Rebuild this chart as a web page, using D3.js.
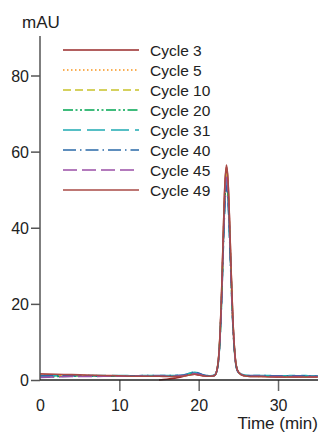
<!DOCTYPE html>
<html><head><meta charset="utf-8">
<script src="https://cdn.jsdelivr.net/npm/d3@7"></script>
<style>
html,body{margin:0;padding:0;background:#fff;}
svg{display:block;font-family:"Liberation Sans",Arial,sans-serif;}
</style></head>
<body><svg id="c" width="321" height="434"></svg>
<script>
// time (min)
const time = [0,2,4,6,8,10,12,14,15,16,17,18,18.5,19,19.5,20,20.5,21,21.5,
  22.0,22.3,22.6,22.9,23.1,23.3,23.5,23.7,23.9,24.1,24.3,24.6,24.9,25.3,25.8,
  26.5,27,28,29,30,31,32,33,34,35];
const seriesNames = ["Cycle 3","Cycle 5","Cycle 10","Cycle 20","Cycle 31","Cycle 40","Cycle 45","Cycle 49"];
// absorbance (mAU); null = not recorded
const cycle3  = [null,null,null,null,null,null,null,null,0.0,0.2,0.5,0.9,1.2,1.4,1.5,1.3,1.1,1.0,1.0,
  1.2,2.6,8.4,23.6,38.0,50.8,56.0,51.8,40.9,27.8,16.3,5.9,2.5,1.5,1.1,
  0.9,0.9,0.9,0.9,0.8,0.8,0.8,0.8,0.8,0.8];
const cycle5  = [1.3,1.3,1.2,1.2,1.1,1.1,1.0,1.0,1.0,1.0,1.0,1.1,1.3,1.6,1.7,1.5,1.2,1.0,1.0,
  1.2,2.5,8.1,22.9,36.9,49.4,55.0,50.4,39.8,27.0,15.9,5.8,2.4,1.5,1.1,
  1.0,1.0,0.9,0.9,0.9,0.9,0.9,0.9,0.9,0.9];
const cycle10 = [1.1,1.1,1.1,1.0,1.0,1.0,1.0,1.0,1.0,1.0,1.0,1.1,1.3,1.6,1.7,1.5,1.2,1.0,1.0,
  1.2,2.5,8.0,22.5,36.2,48.5,54.0,49.5,39.1,26.6,15.6,5.7,2.4,1.5,1.1,
  1.0,1.0,1.0,1.0,1.0,0.9,0.9,0.9,0.9,0.9];
const cycle20 = [0.8,0.9,1.0,1.0,1.0,1.0,1.0,1.1,1.1,1.1,1.1,1.2,1.4,1.7,1.8,1.6,1.3,1.1,1.0,
  1.2,2.5,7.9,22.1,35.6,47.6,53.0,48.6,38.4,26.1,15.3,5.6,2.4,1.5,1.2,
  1.1,1.1,1.0,1.0,1.0,1.0,1.0,1.0,1.0,1.0];
const cycle31 = [1.0,1.1,1.1,1.2,1.2,1.2,1.1,1.2,1.2,1.2,1.2,1.3,1.5,1.9,2.0,1.8,1.4,1.2,1.1,
  1.3,2.5,7.7,21.6,35.0,46.7,52.0,47.7,37.7,25.6,15.1,5.5,2.4,1.6,1.3,
  1.2,1.2,1.2,1.2,1.1,1.1,1.2,1.2,1.1,1.1];
const cycle40 = [1.2,1.2,1.1,1.1,1.1,1.1,1.1,1.2,1.2,1.2,1.2,1.3,1.5,1.9,2.1,1.8,1.4,1.2,1.1,
  1.3,2.5,7.6,21.2,34.3,45.8,51.0,46.8,37.0,25.2,14.8,5.4,2.4,1.6,1.3,
  1.2,1.2,1.2,1.1,1.1,1.1,1.1,1.1,1.1,1.0];
const cycle45 = [0.7,0.8,0.9,0.9,1.0,1.0,1.0,1.0,1.0,1.0,1.0,1.1,1.3,1.6,1.7,1.5,1.2,1.0,1.0,
  1.2,2.5,8.0,22.5,36.2,48.5,54.0,49.5,39.1,26.6,15.6,5.7,2.4,1.5,1.1,
  1.0,1.0,1.0,0.9,0.9,0.9,0.9,0.9,0.9,0.9];
const cycle49 = [1.6,1.5,1.4,1.3,1.2,1.1,1.0,1.0,1.0,0.9,0.9,1.0,1.2,1.4,1.5,1.3,1.1,1.0,1.0,
  1.2,2.6,8.5,23.9,38.4,51.3,56.5,52.3,41.3,28.1,16.4,6.0,2.5,1.5,1.1,
  0.9,0.9,0.9,0.8,0.8,0.8,0.8,0.8,0.8,0.8];
const allSeries = [cycle3,cycle5,cycle10,cycle20,cycle31,cycle40,cycle45,cycle49];
const yTicks = [0,20,40,60,80];
const xTicks = [0,10,20,30];

const colors = ["#982a2a","#f7941d","#c8c22a","#00a651","#1fabb3","#2a6aa8","#9a4fa6","#a94a46"];
const dashes = [null,"1.5,2.5","8,4","10,2.5,2,2.5,2,2.5","18,6","13,4,1.5,4","14,5",null];

const svg = d3.select("#c");
const x = d3.scaleLinear().domain([0,35]).range([40,317.7]);
const y = d3.scaleLinear().domain([0,80]).range([380,75.5]);

// lines
const line = d3.line()
  .defined(d => d[1] != null)
  .x(d => x(d[0])).y(d => y(d[1]))
  .curve(d3.curveMonotoneX);
allSeries.forEach((s,i) => {
  svg.append("path")
    .datum(time.map((t,j) => [t, s[j]]))
    .attr("d", line)
    .attr("fill","none")
    .attr("stroke", colors[i])
    .attr("stroke-width", 1.6)
    .attr("stroke-dasharray", dashes[i] || null);
});

// y axis
const yAxis = d3.axisLeft(y).tickValues(yTicks).tickSize(9).tickPadding(2).tickFormat(d3.format("d"));
const gy = svg.append("g").attr("transform","translate(40,0)").call(yAxis);
gy.select(".domain").remove();
gy.append("line").attr("x1",0).attr("x2",0).attr("y1",36).attr("y2",380)
  .attr("stroke","#555").attr("stroke-width",1.5);
gy.selectAll(".tick line").attr("stroke","#555").attr("stroke-width",1.5);
gy.selectAll(".tick text").attr("fill","#222").style("font-size","16px").attr("dy","0.36em");

// x axis
const xAxis = d3.axisBottom(x).tickValues(xTicks).tickSize(11).tickPadding(9).tickFormat(d3.format("d"));
const gx = svg.append("g").attr("transform","translate(0,380)").call(xAxis);
gx.select(".domain").remove();
gx.append("line").attr("x1",40).attr("x2",318).attr("y1",0).attr("y2",0)
  .attr("stroke","#222").attr("stroke-width",1.5);
gx.selectAll(".tick line").attr("stroke","#666").attr("stroke-width",1.5)
  .attr("display", d => d === 0 ? "none" : null);
gx.selectAll(".tick text").attr("fill","#222").style("font-size","16px");

// axis titles
svg.append("text").attr("x",22).attr("y",28).text("mAU")
  .attr("fill","#222").style("font-size","17px");
svg.append("text").attr("x",318).attr("y",429).attr("text-anchor","end").text("Time (min)")
  .attr("fill","#222").style("font-size","17px");

// legend
const lg = svg.append("g");
seriesNames.forEach((n,i) => {
  const cy = 50 + 20*i;
  lg.append("line").attr("x1",63).attr("x2",139).attr("y1",cy).attr("y2",cy)
    .attr("stroke",colors[i]).attr("stroke-width",1.6)
    .attr("stroke-dasharray", dashes[i] || null);
  lg.append("text").attr("x",150).attr("y",cy+5.5).text(n)
    .attr("fill","#222").style("font-size","15.5px");
});
</script></body></html>
